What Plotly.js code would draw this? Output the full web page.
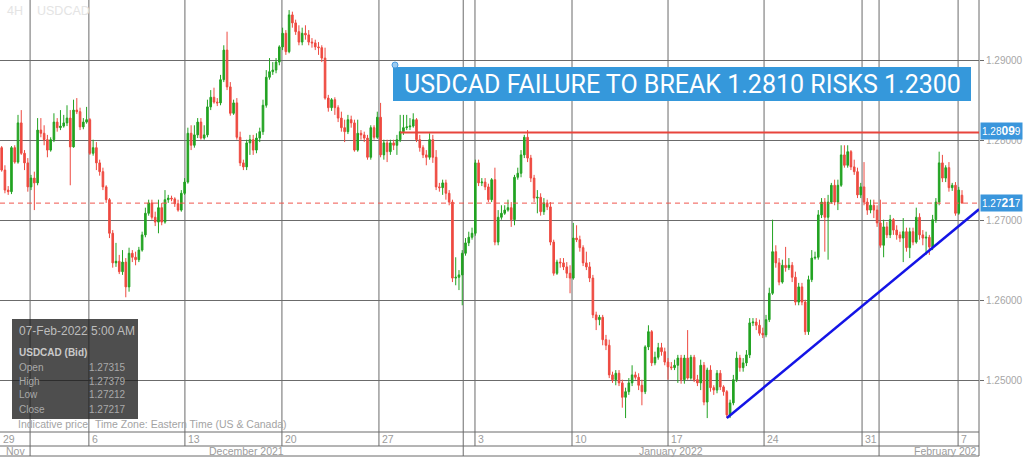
<!DOCTYPE html>
<html>
<head>
<meta charset="utf-8">
<script src="https://cdn.plot.ly/plotly-3.0.1.min.js"></script>
<style>html,body{margin:0;padding:0;background:#fff;}#chart{width:1024px;height:457px;}</style>
</head>
<body>
<div id="chart"></div>
<script>
// 4H USDCAD candles, 29 Nov 2021 – 07 Feb 2022 05:00
const openP = [
1.2791,1.2763,1.2738,1.2736,1.2791,1.2773,1.2822,1.2784,1.2772,1.2742,
1.2753,1.2747,1.2813,1.2809,1.2801,1.2788,1.2801,1.2823,1.2816,1.2818,
1.2822,1.2828,1.2792,1.2838,1.2836,1.2817,1.2823,1.2826,1.2784,1.2791,
1.2772,1.2761,1.2742,1.2726,1.2684,1.2647,1.2649,1.2636,1.2648,1.2617,
1.2659,1.2654,1.2651,1.2663,1.2682,1.2709,1.2722,1.2704,1.2698,1.2716,
1.2698,1.2726,1.2728,1.2727,1.2721,1.2713,1.2734,1.2748,1.2809,1.2794,
1.2807,1.2823,1.2803,1.2807,1.2842,1.2854,1.2848,1.2847,1.2876,1.2913,
1.2867,1.2834,1.2847,1.2804,1.2772,
1.2767,1.2797,1.2801,1.2788,1.2803,1.2811,1.2844,1.2879,1.2886,1.2888,
1.2898,1.2917,1.2934,1.2911,1.2957,1.2947,1.2936,1.2923,1.2934,1.2932,
1.2923,1.2922,1.2917,1.2916,1.2903,1.2853,1.2841,1.2851,1.2841,1.2828,
1.2816,1.2811,1.2826,1.2822,1.2788,1.2809,1.2807,1.2803,1.2779,1.2816,
1.2804,1.2829,1.2782,1.2797,1.2786,1.2797,1.2794,1.2801,1.2811,1.2816,
1.2817,1.2818,1.2826,1.2801,1.2791,1.2782,1.2779,1.2801,1.2779,1.2742,
1.2741,1.2747,1.2734,1.2723,1.2628,1.2629,1.2632,1.2659,1.2672,1.2679,
1.2684,1.2772,1.2747,1.2748,1.2742,
1.2726,1.2751,1.2673,1.2704,1.2709,1.2713,1.2716,1.2701,1.2754,1.2759,
1.2782,1.2804,1.2778,1.2753,1.2728,1.2729,1.2711,1.2722,1.2717,1.2673,
1.2634,1.2648,1.2647,1.2642,1.2634,1.2628,1.2678,1.2676,1.2666,1.2647,
1.2642,1.2628,1.2582,1.2576,1.2579,1.2551,1.2544,1.2507,1.2501,1.2509,
1.2497,1.2479,1.2486,1.2497,1.2507,1.2504,1.2494,1.2486,1.2542,1.2561,
1.2522,1.2529,1.2541,1.2536,1.2523,1.2517,1.2516,1.2519,1.2528,1.2501,
1.2528,1.2503,1.2529,1.2501,1.2497,1.2519,1.2473,1.2513,1.2491,1.2488,
1.2509,1.2492,1.2486,1.2457,1.2472,1.2501,
1.2528,1.2516,1.2522,1.2532,1.2572,1.2573,1.2569,1.2559,1.2557,1.2576,
1.2609,1.2661,1.2647,1.2623,1.2644,1.2641,1.2644,1.2629,1.2598,1.2617,
1.2598,1.2561,1.2626,1.2653,1.2654,1.2707,1.2723,1.2704,1.2723,1.2744,
1.2723,1.2744,1.2782,1.2769,1.2786,1.2767,1.2761,1.2732,1.2742,1.2723,
1.2713,1.2719,1.2713,1.2697,1.2669,1.2692,1.2682,1.2701,1.2688,1.2682,
1.2678,1.2686,1.2666,1.2686,1.2673,1.2704,1.2682,1.2678,1.2679,1.2667,
1.2701,1.2723,1.2772,1.2753,1.2766,1.2741,1.2744,1.2709,1.27315
];
const highP = [
1.2793,1.2769,1.2743,1.2793,1.2794,1.2832,1.2838,1.2788,1.2778,1.2757,
1.2761,1.2828,1.2828,1.2819,1.2807,1.2804,1.2834,1.2828,1.2838,1.2832,
1.2844,1.2838,1.2851,1.2853,1.2841,1.2828,1.2842,1.2828,1.2801,1.2798,
1.2776,1.2766,1.2744,1.2728,1.2688,1.2672,1.2657,1.2663,1.2653,1.2666,
1.2663,1.2661,1.2667,1.2686,1.2716,1.2726,1.2726,1.2711,1.2726,1.2722,
1.2738,1.2732,1.2731,1.2729,1.2726,1.2738,1.2753,1.2816,1.2819,1.2819,
1.2828,1.2828,1.2819,1.2851,1.2863,1.2866,1.2853,1.2882,1.2919,1.2936,
1.2873,1.2851,1.2853,1.2811,1.2776,
1.2801,1.2807,1.2807,1.2809,1.2816,1.2851,1.2888,1.2903,1.2898,1.2903,
1.2919,1.2941,1.2938,1.2963,1.2961,1.2951,1.2944,1.2941,1.2944,1.2938,
1.2928,1.2926,1.2923,1.2919,1.2916,1.2857,1.2853,1.2854,1.2844,1.2836,
1.2826,1.2832,1.2831,1.2826,1.2826,1.2813,1.2811,1.2807,1.2819,1.2819,
1.2836,1.2847,1.2801,1.2801,1.2801,1.2801,1.2807,1.2832,1.2832,1.2832,
1.2828,1.2834,1.2828,1.2807,1.2794,1.2788,1.2809,1.2807,1.2788,1.2747,
1.2751,1.2751,1.2738,1.2726,1.2654,1.2638,1.2663,1.2678,1.2686,1.2691,
1.2776,1.2776,1.2753,1.2753,1.2746,
1.2753,1.2766,1.2713,1.2719,1.2719,1.2726,1.2723,1.2757,1.2766,1.2788,
1.2807,1.2813,1.2782,1.2757,1.2738,1.2734,1.2728,1.2726,1.2723,1.2676,
1.2651,1.2653,1.2653,1.2648,1.2644,1.2697,1.2694,1.2681,1.2669,1.2661,
1.2648,1.2632,1.2586,1.2582,1.2582,1.2557,1.2551,1.2511,1.2513,1.2513,
1.2501,1.2491,1.2503,1.2519,1.2511,1.2509,1.2501,1.2544,1.2569,1.2563,
1.2536,1.2547,1.2547,1.2541,1.2528,1.2523,1.2526,1.2532,1.2532,1.2532,
1.2563,1.2532,1.2532,1.2507,1.2526,1.2523,1.2516,1.2519,1.2494,1.2513,
1.2513,1.2494,1.2488,1.2476,1.2507,1.2536,
1.2532,1.2528,1.2538,1.2578,1.2578,1.2578,1.2576,1.2566,1.2582,1.2616,
1.2701,1.2669,1.2653,1.2651,1.2667,1.2653,1.2648,1.2636,1.2622,1.2622,
1.2601,1.2631,1.2663,1.2661,1.2713,1.2728,1.2728,1.2732,1.2747,1.2751,
1.2751,1.2794,1.2794,1.2794,1.2788,1.2776,1.2766,1.2747,1.2773,1.2728,
1.2726,1.2726,1.2719,1.2726,1.2701,1.2698,1.2707,1.2703,1.2694,1.2686,
1.2703,1.2691,1.2691,1.2691,1.2716,1.2709,1.2688,1.2686,1.2682,1.2707,
1.2728,1.2786,1.2782,1.2769,1.2773,1.2747,1.2748,1.2742,1.27379
];
const lowP = [
1.2761,1.2734,1.2732,1.2733,1.2771,1.2771,1.2782,1.2763,1.2736,1.2738,
1.2713,1.2744,1.2804,1.2794,1.2779,1.2786,1.2798,1.2811,1.2813,1.2816,
1.2818,1.2744,1.2791,1.2833,1.2813,1.2814,1.2821,1.2782,1.2781,1.2763,
1.2756,1.2738,1.2722,1.2678,1.2641,1.2642,1.2633,1.2632,1.2604,1.2611,
1.2648,1.2644,1.2648,1.2661,1.2679,1.2706,1.2701,1.2693,1.2684,1.2694,
1.2696,1.2722,1.2724,1.2717,1.2711,1.2711,1.2732,1.2746,1.2788,1.2791,
1.2803,1.2801,1.2801,1.2804,1.2838,1.2846,1.2843,1.2844,1.2873,1.2863,
1.2831,1.2832,1.2801,1.2768,1.2763,
1.2763,1.2782,1.2782,1.2784,1.2798,1.2807,1.2841,1.2876,1.2882,1.2884,
1.2894,1.2913,1.2907,1.2909,1.2941,1.2932,1.2919,1.2919,1.2926,1.2919,
1.2916,1.2913,1.2907,1.2898,1.2851,1.2836,1.2837,1.2832,1.2823,1.2811,
1.2798,1.2808,1.2816,1.2786,1.2786,1.2801,1.2798,1.2776,1.2776,1.2801,
1.2802,1.2779,1.2776,1.2773,1.2782,1.2788,1.2782,1.2798,1.2807,1.2813,
1.2813,1.2816,1.2798,1.2786,1.2778,1.2769,1.2776,1.2772,1.2738,1.2736,
1.2732,1.2726,1.2719,1.2623,1.2619,1.2613,1.2594,1.2656,1.2668,1.2676,
1.2681,1.2743,1.2743,1.2738,1.2723,
1.2723,1.2669,1.2669,1.2701,1.2707,1.2711,1.2692,1.2694,1.2751,1.2754,
1.2778,1.2773,1.2748,1.2723,1.2709,1.2706,1.2707,1.2713,1.2669,1.2631,
1.2632,1.2641,1.2638,1.2628,1.2609,1.2626,1.2673,1.2661,1.2643,1.2638,
1.2623,1.2578,1.2563,1.2569,1.2544,1.2538,1.2503,1.2497,1.2494,1.2493,
1.2466,1.2453,1.2482,1.2493,1.2501,1.2488,1.2469,1.2483,1.2538,1.2518,
1.2519,1.2526,1.2531,1.2519,1.2501,1.2513,1.2513,1.2497,1.2496,1.2496,
1.2501,1.2501,1.2498,1.2493,1.2488,1.2469,1.2453,1.2486,1.2482,1.2484,
1.2488,1.2481,1.2453,1.2453,1.2469,1.2498,
1.2511,1.2511,1.2518,1.2528,1.2568,1.2563,1.2556,1.2553,1.2554,1.2573,
1.2607,1.2641,1.2619,1.2621,1.2636,1.2638,1.2623,1.2594,1.2594,1.2594,
1.2557,1.2557,1.2623,1.2651,1.2651,1.2703,1.2661,1.2651,1.2721,1.2719,
1.2713,1.2742,1.2766,1.2766,1.2763,1.2757,1.2728,1.2728,1.2719,1.2707,
1.2709,1.2703,1.2692,1.2666,1.2654,1.2678,1.2678,1.2682,1.2676,1.2673,
1.2648,1.2661,1.2653,1.2669,1.2671,1.2676,1.2669,1.2657,1.2657,1.2663,
1.2697,1.2719,1.2748,1.2748,1.2736,1.2737,1.2706,1.2707,1.27212
];
const closeP = [
1.2763,1.2738,1.2736,1.2791,1.2773,1.2822,1.2784,1.2772,1.2742,1.2753,
1.2747,1.2813,1.2809,1.2801,1.2788,1.2801,1.2823,1.2816,1.2818,1.2822,
1.2828,1.2792,1.2838,1.2836,1.2817,1.2823,1.2826,1.2784,1.2791,1.2772,
1.2761,1.2742,1.2726,1.2684,1.2647,1.2649,1.2636,1.2648,1.2617,1.2659,
1.2654,1.2651,1.2663,1.2682,1.2709,1.2722,1.2704,1.2698,1.2716,1.2698,
1.2726,1.2728,1.2727,1.2721,1.2713,1.2734,1.2748,1.2809,1.2794,1.2807,
1.2823,1.2803,1.2807,1.2842,1.2854,1.2848,1.2847,1.2876,1.2913,1.2867,
1.2834,1.2847,1.2804,1.2772,1.2767,
1.2797,1.2801,1.2788,1.2803,1.2811,1.2844,1.2879,1.2886,1.2888,1.2898,
1.2917,1.2934,1.2911,1.2957,1.2947,1.2936,1.2923,1.2934,1.2932,1.2923,
1.2922,1.2917,1.2916,1.2903,1.2853,1.2841,1.2851,1.2841,1.2828,1.2816,
1.2811,1.2826,1.2822,1.2788,1.2809,1.2807,1.2803,1.2779,1.2816,1.2804,
1.2829,1.2782,1.2797,1.2786,1.2797,1.2794,1.2801,1.2811,1.2816,1.2817,
1.2818,1.2826,1.2801,1.2791,1.2782,1.2779,1.2801,1.2779,1.2742,1.2741,
1.2747,1.2734,1.2723,1.2628,1.2629,1.2632,1.2659,1.2672,1.2679,1.2684,
1.2772,1.2747,1.2748,1.2742,1.2726,
1.2751,1.2673,1.2704,1.2709,1.2713,1.2716,1.2701,1.2754,1.2759,1.2782,
1.2804,1.2778,1.2753,1.2728,1.2729,1.2711,1.2722,1.2717,1.2673,1.2634,
1.2648,1.2647,1.2642,1.2634,1.2628,1.2678,1.2676,1.2666,1.2647,1.2642,
1.2628,1.2582,1.2576,1.2579,1.2551,1.2544,1.2507,1.2501,1.2509,1.2497,
1.2479,1.2486,1.2497,1.2507,1.2504,1.2494,1.2486,1.2542,1.2561,1.2522,
1.2529,1.2541,1.2536,1.2523,1.2517,1.2516,1.2519,1.2528,1.2501,1.2528,
1.2503,1.2529,1.2501,1.2497,1.2519,1.2473,1.2513,1.2491,1.2488,1.2509,
1.2492,1.2486,1.2457,1.2472,1.2501,1.2528,
1.2516,1.2522,1.2532,1.2572,1.2573,1.2569,1.2559,1.2557,1.2576,1.2609,
1.2661,1.2647,1.2623,1.2644,1.2641,1.2644,1.2629,1.2598,1.2617,1.2598,
1.2561,1.2626,1.2653,1.2654,1.2707,1.2723,1.2704,1.2723,1.2744,1.2723,
1.2744,1.2782,1.2769,1.2786,1.2767,1.2761,1.2732,1.2742,1.2723,1.2713,
1.2719,1.2713,1.2697,1.2669,1.2692,1.2682,1.2701,1.2688,1.2682,1.2678,
1.2686,1.2666,1.2686,1.2673,1.2704,1.2682,1.2678,1.2679,1.2667,1.2701,
1.2723,1.2772,1.2753,1.2766,1.2741,1.2744,1.2709,1.2738,1.27217
];

// Axis labels (week starts, month bands) expressed in candle-index units
const weekLabels = ['29','6','13','20','27','3','10','17','24','31','7'];
const weekStartIdx = [-2.6, 26.7, 56.1, 85.8, 115.5, 144.9, 174.6, 204.0, 233.4, 263.4, 292.8];
const monthLabels = ['Nov','December 2021','January 2022','February 202'];
const monthStartIdx = [-10, 8.7, 141.3, 268.6];
const priceTicks = [1.25, 1.26, 1.27, 1.28, 1.29];

// Annotation levels
const resistanceLevel = 1.28099;
const resistanceStartIdx = 122;
const lastPrice = 1.27217;
const trendIdx = [222, 299.2];
const trendPrice = [1.2453, 1.2714];

const infoRows = [['Open','1.27315'],['High','1.27379'],['Low','1.27212'],['Close','1.27217']];

const xIdx = closeP.map((_, i) => i);
const xRange = [-0.51, 299.2];
const yRange = [1.24356, 1.29756];

const GRID = '#6b6b6b';
const rowH = 14/432, row2H = 24/432;

const shapes = [];
const annotations = [];

// vertical week lines (plot + date row)
weekStartIdx.forEach(v => {
  if (v < xRange[0]) return;
  shapes.push({type:'line', xref:'x', yref:'paper', x0:v, x1:v, y0:-rowH, y1:1,
    line:{color:GRID, width:1}, layer:'below'});
});
// month boundary lines (full height)
monthStartIdx.forEach(v => {
  if (v < xRange[0]) return;
  shapes.push({type:'line', xref:'x', yref:'paper', x0:v, x1:v, y0:-row2H, y1:1,
    line:{color:GRID, width:1}, layer:'below'});
});
// horizontal row separators at bottom
[0, -rowH, -row2H].forEach(y => {
  shapes.push({type:'line', xref:'paper', yref:'paper', x0:0, x1:1, y0:y, y1:y,
    line:{color:GRID, width:1}, layer:'below'});
});
// right axis line
shapes.push({type:'line', xref:'paper', yref:'paper', x0:1, x1:1, y0:-row2H, y1:1,
  line:{color:GRID, width:1}, layer:'below'});

// resistance (solid red), last price (dashed red), trendline (blue)
shapes.push({type:'line', xref:'x', yref:'y', x0:resistanceStartIdx, x1:xRange[1],
  y0:resistanceLevel, y1:resistanceLevel, line:{color:'#e8453c', width:2}, layer:'above'});
shapes.push({type:'line', xref:'x', yref:'y', x0:xRange[0], x1:xRange[1],
  y0:lastPrice, y1:lastPrice, line:{color:'#f0554d', width:1, dash:'5px,4px'}, layer:'above'});
shapes.push({type:'line', xref:'x', yref:'y', x0:trendIdx[0], x1:trendIdx[1],
  y0:trendPrice[0], y1:trendPrice[1], line:{color:'#1414e6', width:2.5}, layer:'above'});

// title box
const px = v => v/979, py = v => (432 - v)/432;
shapes.push({type:'rect', xref:'paper', yref:'paper', x0:px(393), x1:px(971), y0:py(101), y1:py(67),
  fillcolor:'#3598db', line:{width:0}, layer:'above'});
shapes.push({type:'circle', xref:'paper', yref:'paper', x0:px(392), x1:px(398), y0:py(68), y1:py(62),
  fillcolor:'#9ccbf0', line:{color:'#4a9be0', width:1}, layer:'above'});
annotations.push({xref:'paper', yref:'paper', x:px(682), y:py(84.5), xanchor:'center', yanchor:'middle',
  text:'USDCAD FAILURE TO BREAK 1.2810 RISKS 1.2300', showarrow:false,
  font:{family:'Roboto, sans-serif', size:25, color:'#ffffff'}});

// info box
shapes.push({type:'rect', xref:'paper', yref:'paper', x0:px(12), x1:px(138), y0:py(419), y1:py(319),
  fillcolor:'rgba(28,28,28,0.78)', line:{width:0}, layer:'above'});
annotations.push({xref:'paper', yref:'paper', x:px(17), y:py(331), xanchor:'left', yanchor:'middle',
  text:'07-Feb-2022 5:00 AM', showarrow:false,
  font:{family:'Liberation Sans, Arial, sans-serif', size:12, color:'#bdbdbd'}});
annotations.push({xref:'paper', yref:'paper', x:px(17), y:py(352), xanchor:'left', yanchor:'middle',
  text:'<b>USDCAD (Bid)</b>', showarrow:false,
  font:{family:'Liberation Sans, Arial, sans-serif', size:10, color:'#c9c9c9'}});
const rowY = [367, 381, 394.5, 409];
infoRows.forEach((r, i) => {
  annotations.push({xref:'paper', yref:'paper', x:px(17), y:py(rowY[i]), xanchor:'left', yanchor:'middle',
    text:r[0], showarrow:false, font:{family:'Liberation Sans, Arial, sans-serif', size:10, color:'#a9a9a9'}});
  annotations.push({xref:'paper', yref:'paper', x:px(128), y:py(rowY[i]), xanchor:'right', yanchor:'middle',
    text:r[1], showarrow:false, font:{family:'Liberation Sans, Arial, sans-serif', size:10, color:'#a9a9a9'}});
});

// footer texts inside plot
annotations.push({xref:'paper', yref:'paper', x:px(16), y:py(424), xanchor:'left', yanchor:'middle',
  text:'Indicative price', showarrow:false, font:{family:'Liberation Sans, Arial, sans-serif', size:10.5, color:'#a3a3a3'}});
annotations.push({xref:'paper', yref:'paper', x:px(93), y:py(424), xanchor:'left', yanchor:'middle',
  text:'Time Zone: Eastern Time (US &amp; Canada)', showarrow:false, font:{family:'Liberation Sans, Arial, sans-serif', size:10.5, color:'#a3a3a3'}});

// top-left watermark
annotations.push({xref:'paper', yref:'paper', x:px(5), y:py(11), xanchor:'left', yanchor:'middle',
  text:'4H', showarrow:false, font:{family:'Liberation Sans, Arial, sans-serif', size:12.5, color:'#e4e4e4'}});
annotations.push({xref:'paper', yref:'paper', x:px(35), y:py(11), xanchor:'left', yanchor:'middle',
  text:'USDCAD', showarrow:false, font:{family:'Liberation Sans, Arial, sans-serif', size:12.5, color:'#e4e4e4'}});

// date row labels
weekLabels.forEach((t, i) => {
  annotations.push({xref:'x', yref:'paper', x:Math.max(weekStartIdx[i], xRange[0]), y:-rowH/2,
    xanchor:'left', yanchor:'middle', xshift:1, text:t, showarrow:false,
    font:{family:'Liberation Sans, Arial, sans-serif', size:10.5, color:'#9c9c9c'}});
});
// month row labels
monthLabels.forEach((t, i) => {
  const a = Math.max(monthStartIdx[i], xRange[0]);
  const last = i === monthLabels.length - 1;
  const b = last ? xRange[1] : monthStartIdx[i+1];
  annotations.push({xref:'x', yref:'paper', x: last ? b : (a+b)/2, y:-(rowH+row2H)/2,
    xanchor: last ? 'right' : 'center', yanchor:'middle', text:t, showarrow:false,
    font:{family:'Liberation Sans, Arial, sans-serif', size:10.5, color:'#9c9c9c'}});
});

// price flags on right axis
function flag(v, dy) {
  const s = v.toFixed(5);
  const txt = s.slice(0,4) + '<b><span style="font-size:12px">' + s.slice(4,6) + '</span></b>' + s.slice(6);
  annotations.push({xref:'paper', yref:'y', x:1, y:v, xanchor:'left', yanchor:'middle', xshift:1, yshift:dy,
    text:txt, showarrow:false, bgcolor:'#3a96dc', borderpad:1,
    font:{family:'Liberation Sans, Arial, sans-serif', size:10, color:'#ffffff'}});
}
flag(resistanceLevel, 2);
flag(lastPrice, 0);

const trace = {
  type:'candlestick', x:xIdx, open:openP, high:highP, low:lowP, close:closeP,
  increasing:{line:{color:'#22a322', width:1}, fillcolor:'#22a322'},
  decreasing:{line:{color:'#ee4a40', width:1}, fillcolor:'#ee4a40'},
  whiskerwidth:0, hoverinfo:'skip', showlegend:false
};

const layout = {
  width:1024, height:457,
  margin:{l:0, r:45, t:0, b:25, pad:0},
  paper_bgcolor:'#ffffff', plot_bgcolor:'#ffffff',
  showlegend:false,
  xaxis:{type:'linear', range:xRange, showgrid:false, zeroline:false, showticklabels:false,
    ticks:'', showline:false, rangeslider:{visible:false}, fixedrange:true},
  yaxis:{side:'right', range:yRange, tickvals:priceTicks, ticktext:priceTicks.map(v => v.toFixed(5)),
    showgrid:true, gridcolor:GRID, gridwidth:1, zeroline:false, showline:false,
    ticks:'outside', ticklen:4, tickcolor:GRID,
    tickfont:{family:'Liberation Sans, Arial, sans-serif', size:10, color:'#a6a6a6'}, fixedrange:true},
  shapes:shapes,
  annotations:annotations,
  hovermode:false
};

Plotly.newPlot('chart', [trace], layout, {staticPlot:true, displayModeBar:false});
</script>
</body>
</html>
